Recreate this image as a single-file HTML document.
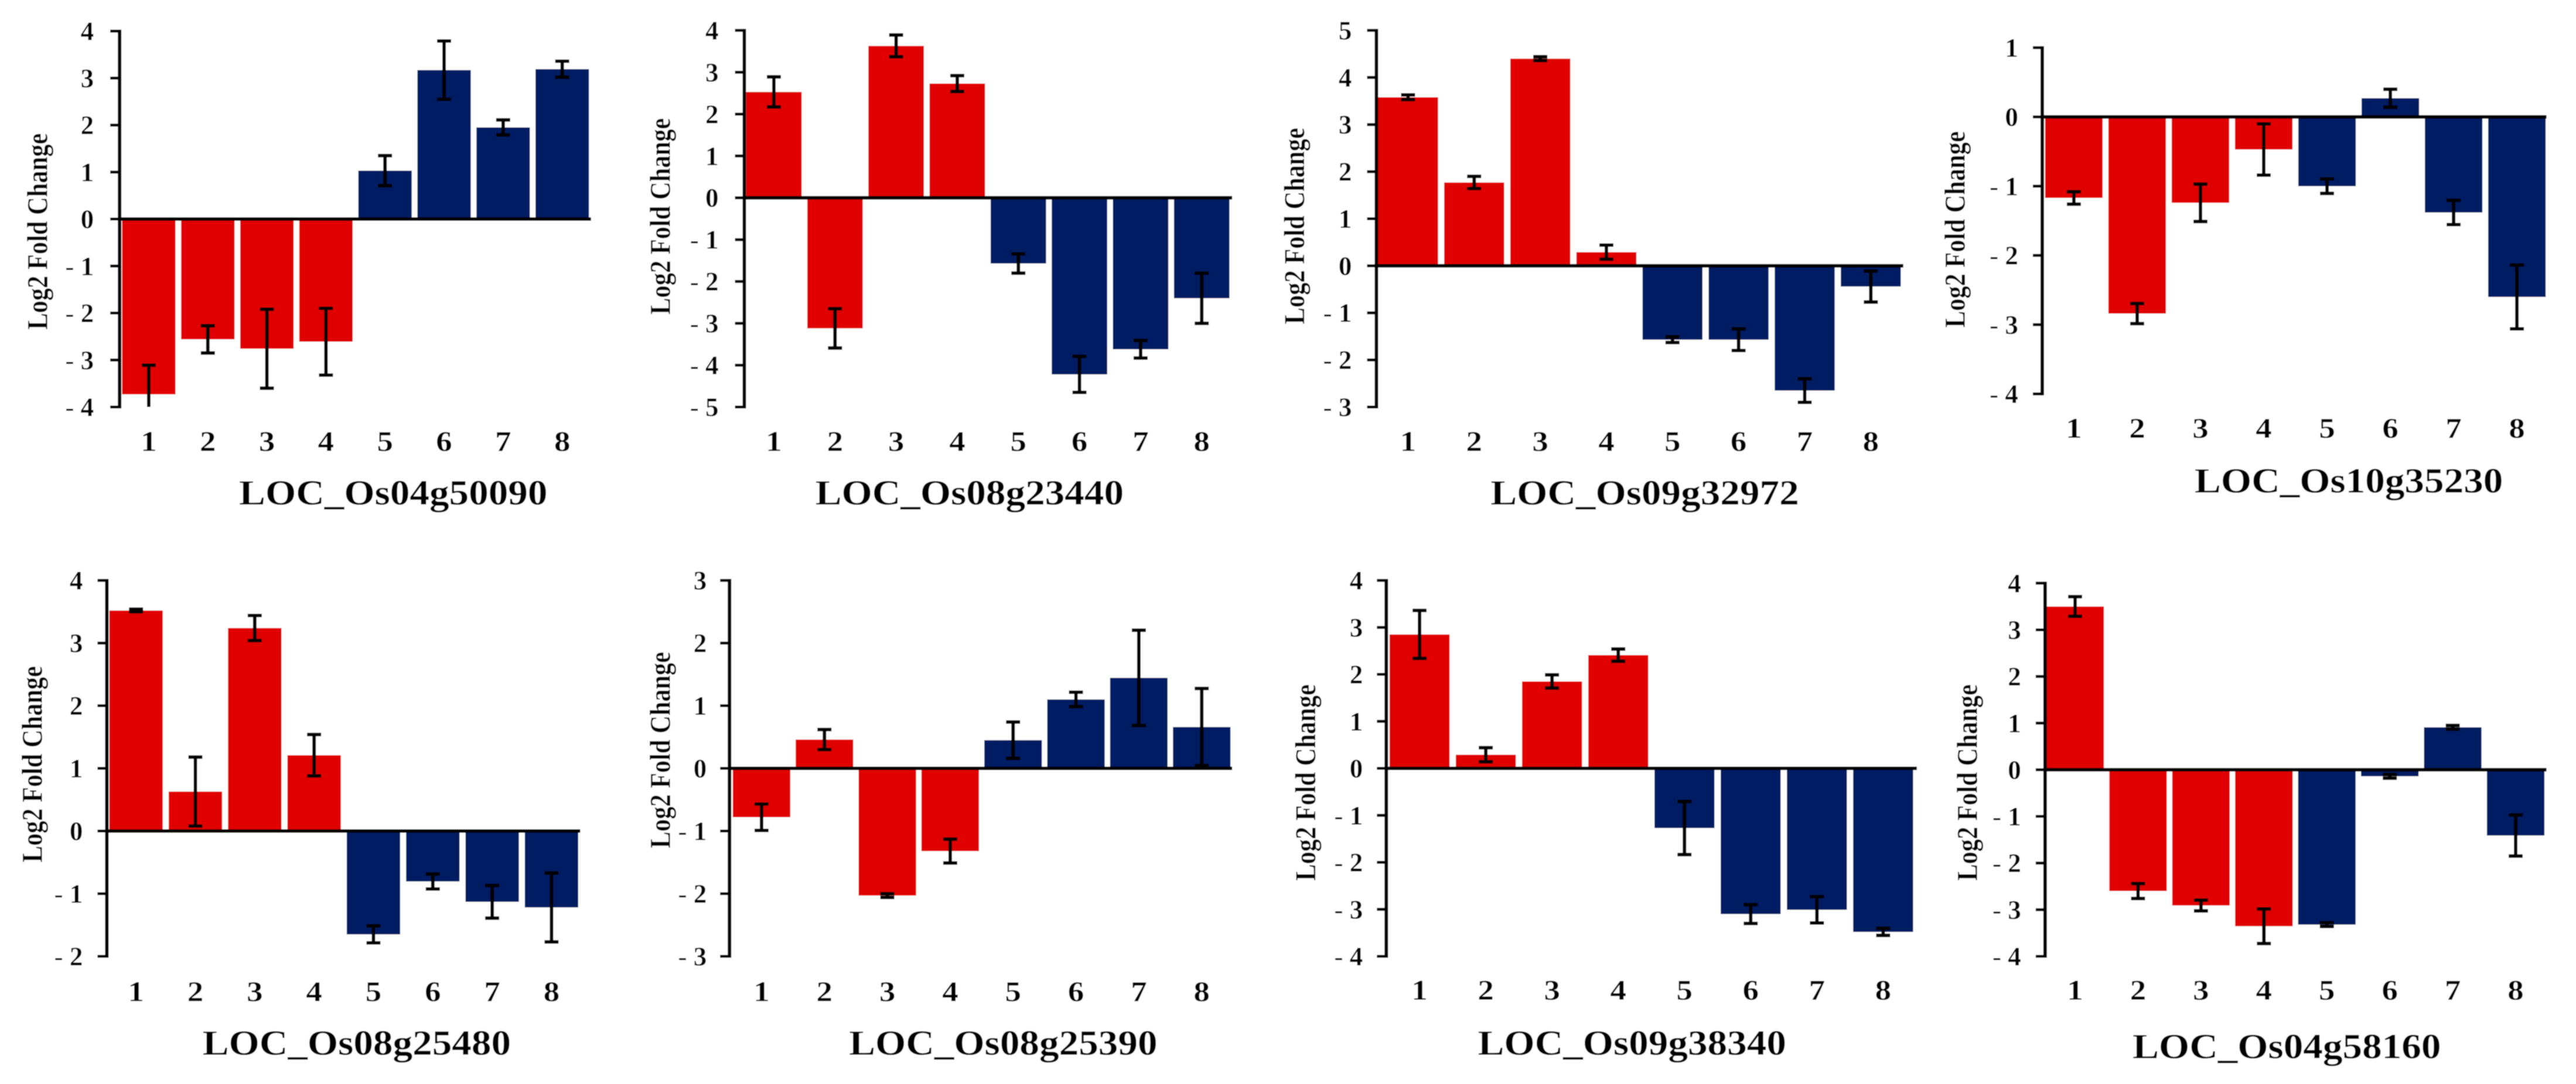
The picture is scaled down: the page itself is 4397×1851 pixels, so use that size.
<!DOCTYPE html>
<html lang="en">
<head>
<meta charset="utf-8">
<title>Log2 Fold Change of eight rice genes</title>
<style>
  html, body { margin: 0; padding: 0; background: #ffffff; }
  svg { display: block; }
  text { font-family: "Liberation Serif", "Times New Roman", serif; font-weight: bold; fill: #000; }
</style>
</head>
<body>
<svg id="figure" xmlns="http://www.w3.org/2000/svg" width="4397" height="1851" viewBox="0 0 4397 1851">
  <defs>
    <filter id="soften" x="0" y="0" width="100%" height="100%" filterUnits="objectBoundingBox">
      <feGaussianBlur stdDeviation="0.9"></feGaussianBlur>
    </filter>
  </defs>
  <g id="plots" filter="url(#soften)">
    <rect x="0" y="0" width="4397" height="1851" fill="#ffffff"></rect>
  </g>
</svg>
<script>
// ---- Data ----
const categories = [1, 2, 3, 4, 5, 6, 7, 8];
const yAxisTitle = "Log2 Fold Change";

const gene1 = "LOC_Os04g50090";
const ticks1 = [4, 3, 2, 1, 0, -1, -2, -3, -4];
const values1 = [-3.73, -2.56, -2.76, -2.61, 1.03, 3.17, 1.95, 3.19];
const errors1 = [0.62, 0.29, 0.84, 0.71, 0.32, 0.62, 0.16, 0.17];

const gene2 = "LOC_Os08g23440";
const ticks2 = [4, 3, 2, 1, 0, -1, -2, -3, -4, -5];
const values2 = [2.53, -3.12, 3.63, 2.73, -1.57, -4.22, -3.62, -2.40];
const errors2 = [0.36, 0.47, 0.26, 0.19, 0.23, 0.43, 0.21, 0.60];

const gene3 = "LOC_Os09g32972";
const ticks3 = [5, 4, 3, 2, 1, 0, -1, -2, -3];
const values3 = [3.58, 1.77, 4.40, 0.29, -1.57, -1.57, -2.65, -0.44];
const errors3 = [0.05, 0.13, 0.04, 0.15, 0.06, 0.23, 0.25, 0.33];

const gene4 = "LOC_Os10g35230";
const ticks4 = [1, 0, -1, -2, -3, -4];
const values4 = [-1.17, -2.84, -1.24, -0.47, -1.00, 0.27, -1.38, -2.60];
const errors4 = [0.09, 0.145, 0.27, 0.37, 0.105, 0.13, 0.175, 0.46];

const gene5 = "LOC_Os08g25480";
const ticks5 = [4, 3, 2, 1, 0, -1, -2];
const values5 = [3.52, 0.63, 3.24, 1.21, -1.65, -0.805, -1.13, -1.22];
const errors5 = [0.02, 0.55, 0.20, 0.33, 0.135, 0.12, 0.26, 0.55];

const gene6 = "LOC_Os08g25390";
const ticks6 = [3, 2, 1, 0, -1, -2, -3];
const values6 = [-0.78, 0.46, -2.03, -1.32, 0.45, 1.10, 1.445, 0.66];
const errors6 = [0.21, 0.16, 0.03, 0.19, 0.29, 0.115, 0.76, 0.615];

const gene7 = "LOC_Os09g38340";
const ticks7 = [4, 3, 2, 1, 0, -1, -2, -3, -4];
const values7 = [2.85, 0.29, 1.85, 2.41, -1.27, -3.10, -3.01, -3.48];
const errors7 = [0.51, 0.15, 0.14, 0.13, 0.565, 0.20, 0.28, 0.075];

const gene8 = "LOC_Os04g58160";
const ticks8 = [4, 3, 2, 1, 0, -1, -2, -3, -4];
const values8 = [3.50, -2.60, -2.91, -3.355, -3.32, -0.14, 0.91, -1.41];
const errors8 = [0.21, 0.16, 0.115, 0.37, 0.04, 0.04, 0.04, 0.44];

// ---- Style and panel frames (frames only, no data) ----
const NS = "http://www.w3.org/2000/svg";
const RED = "#e10000";
const NAVY = "#001b62";
const KX = 0.7015;
const KY = 0.59;
const plots = document.getElementById("plots");

function make(tag, attrs, parent) {
  const el = document.createElementNS(NS, tag);
  for (const k in attrs) el.setAttribute(k, attrs[k]);
  parent.appendChild(el);
  return el;
}

function drawPanel(frame, gene, ticks, values, errors) {
  const px = d => frame.ox + d * KX;
  const py = d => frame.oy + d * KY;
  const axisX = px(frame.axis);
  const top = py(frame.top);
  const bottom = py(frame.bottom);
  const maxTick = Math.max(...ticks);
  const minTick = Math.min(...ticks);
  const yScale = v => top + (maxTick - v) / (maxTick - minTick) * (bottom - top);
  const step = (frame.last - frame.first) / (categories.length - 1);
  const xScale = i => px(frame.first + i * step);
  const barWidth = frame.barW * KX;

  const g = make("g", {}, plots);
  
  

  // Bars
  categories.forEach((c, i) => {
    const y0 = yScale(0);
    const y1 = yScale(values[i]);
    const bar = make("rect", {
      x: xScale(i) - barWidth / 2,
      y: Math.min(y0, y1),
      width: barWidth,
      height: Math.abs(y1 - y0),
      fill: i < 4 ? RED : NAVY
    }, g);
    
    
  });

  // Y axis line
  const yAxis = make("line", { x1: axisX, x2: axisX, y1: top - 2.5, y2: bottom + 2.5, stroke: "#000", "stroke-width": 6 }, g);
  
  

  // Y ticks and labels
  ticks.forEach(t => {
    const y = yScale(t);
    const tick = make("line", { x1: axisX - 16, x2: axisX, y1: y, y2: y, stroke: "#000", "stroke-width": 5 }, g);
    
    
    const label = make("text", { x: axisX - frame.labelGap, y: y + 15.5, "text-anchor": "end", "font-size": 45 }, g);
    
    
    label.setAttribute("xml:space", "preserve");
    if (t < 0) {
      const dash = make("tspan", { "font-weight": "normal" }, label);
      dash.textContent = "- ";
      const digit = make("tspan", {}, label);
      digit.textContent = String(Math.abs(t));
    } else {
      label.textContent = String(t);
    }
  });

  // Zero baseline
  const zero = make("line", { x1: axisX, x2: px(frame.right), y1: yScale(0), y2: yScale(0), stroke: "#000", "stroke-width": 6 }, g);
  
  

  // Error bars
  categories.forEach((c, i) => {
    const x = xScale(i);
    const hiV = values[i] + errors[i];
    const loV = values[i] - errors[i];
    const hi = Math.min(hiV, maxTick);
    const lo = Math.max(loV, minTick);
    const eg = make("g", { stroke: "#000" }, g);
    
    
    make("line", { x1: x, x2: x, y1: yScale(hi), y2: yScale(lo), "stroke-width": 6 }, eg);
    if (hiV <= maxTick) make("line", { x1: x - 12, x2: x + 12, y1: yScale(hi), y2: yScale(hi), "stroke-width": 6 }, eg);
    if (loV >= minTick) make("line", { x1: x - 12, x2: x + 12, y1: yScale(lo), y2: yScale(lo), "stroke-width": 6 }, eg);
  });

  // X labels
  categories.forEach((c, i) => {
    const label = make("text", {
      transform: "translate(" + xScale(i) + "," + py(frame.xLabelY) + ") scale(1.12,1)",
      "text-anchor": "middle",
      "font-size": 49
    }, g);
    
    
    label.textContent = c;
  });

  // Y axis title
  const yTitle = make("text", {
    transform: "translate(" + px(frame.yTitleX) + "," + py(frame.yTitleY) + ") rotate(-90) scale(0.85,1)",
    "text-anchor": "middle",
    "font-size": 50
  }, g);
  
  
  yTitle.textContent = yAxisTitle;

  // Gene title
  const title = make("text", {
    transform: "translate(" + px(frame.titleX) + "," + py(frame.titleY) + ") scale(1.12,1)",
    "text-anchor": "middle",
    "font-size": 60
  }, g);
  
  
  title.textContent = gene;
}

drawPanel({ ox: 0, oy: 0, axis: 291, top: 90, bottom: 1178, first: 362, last: 1368, right: 1438, barW: 130, labelGap: 44, xLabelY: 1305, titleX: 957, titleY: 1460, yTitleX: 115, yTitleY: 670 }, gene1, ticks1, values1, errors1);
drawPanel({ ox: 1100, oy: 0, axis: 243, top: 88, bottom: 1178, first: 315, last: 1356, right: 1430, barW: 135, labelGap: 44, xLabelY: 1305, titleX: 791, titleY: 1460, yTitleX: 62, yTitleY: 626 }, gene2, ticks2, values2, errors2);
drawPanel({ ox: 2200, oy: 0, axis: 213, top: 88, bottom: 1178, first: 290, last: 1416, right: 1495, barW: 146, labelGap: 42, xLabelY: 1305, titleX: 866, titleY: 1460, yTitleX: 37, yTitleY: 654 }, gene3, ticks3, values3, errors3);
drawPanel({ ox: 3300, oy: 0, axis: 265, top: 138, bottom: 1140, first: 342, last: 1420, right: 1492, barW: 140, labelGap: 41, xLabelY: 1267, titleX: 1011, titleY: 1425, yTitleX: 76, yTitleY: 664 }, gene4, ticks4, values4, errors4);
drawPanel({ ox: 0, oy: 925, axis: 260, top: 112, bottom: 1200, first: 331, last: 1342, right: 1412, barW: 130, labelGap: 41, xLabelY: 1330, titleX: 868, titleY: 1485, yTitleX: 102, yTitleY: 644 }, gene5, ticks5, values5, errors5);
drawPanel({ ox: 1100, oy: 925, axis: 207, top: 112, bottom: 1200, first: 285, last: 1356, right: 1430, barW: 140, labelGap: 39, xLabelY: 1330, titleX: 873, titleY: 1485, yTitleX: 62, yTitleY: 603 }, gene6, ticks6, values6, errors6);
drawPanel({ ox: 2200, oy: 925, axis: 237, top: 112, bottom: 1200, first: 318, last: 1446, right: 1528, barW: 146, labelGap: 40, xLabelY: 1325, titleX: 835, titleY: 1485, yTitleX: 64, yTitleY: 697 }, gene7, ticks7, values7, errors7);
drawPanel({ ox: 3300, oy: 925, axis: 272, top: 120, bottom: 1200, first: 345, last: 1417, right: 1492, barW: 140, labelGap: 41, xLabelY: 1325, titleX: 860, titleY: 1495, yTitleX: 106, yTitleY: 697 }, gene8, ticks8, values8, errors8);
</script>
</body>
</html>
